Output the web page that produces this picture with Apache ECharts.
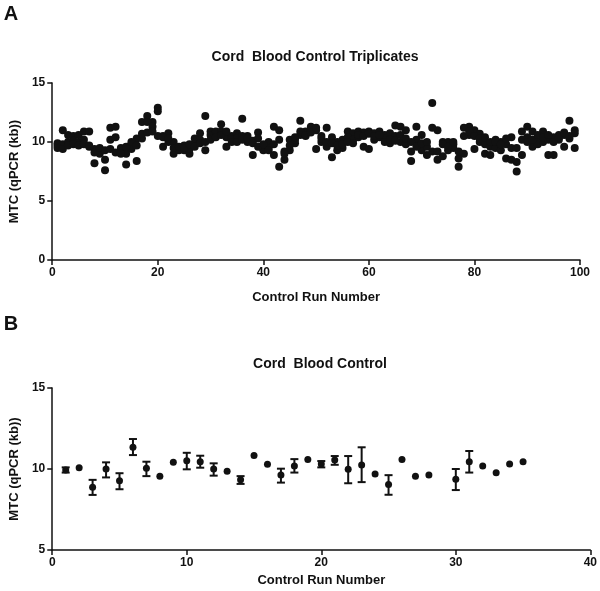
<!DOCTYPE html>
<html><head><meta charset="utf-8">
<script src="https://cdn.jsdelivr.net/npm/echarts@6/dist/echarts.min.js"></script>
<style>html,body{margin:0;padding:0;background:#fff}#c{width:600px;height:591px}</style>
</head><body><div id="c"></div>
<script>
// ---------- Panel A: Cord Blood Control Triplicates ----------
const runsA = [1,2,3,4,5,6,7,8,9,10,11,12,13,14,15,16,17,18,19,20,21,22,23,24,25,26,27,28,29,30,31,32,33,34,35,36,37,38,39,40,41,42,43,44,45,46,47,48,49,50,51,52,53,54,55,56,57,58,59,60,61,62,63,64,65,66,67,68,69,70,71,72,73,74,75,76,77,78,79,80,81,82,83,84,85,86,87,88,89,90,91,92,93,94,95,96,97,98,99];
const repA1 = [9.7,11.0,10.6,10.5,10.6,10.9,10.9,9.4,9.2,8.5,11.2,11.3,9.5,8.1,9.8,8.4,10.3,12.2,11.7,12.9,10.5,10.75,9.0,9.3,9.3,9.0,9.8,10.75,12.2,10.9,10.6,11.5,10.4,10.5,10.75,11.97,10.5,8.9,10.8,9.3,10.0,11.3,11.0,9.2,10.2,9.9,11.8,10.9,11.3,11.0,10.5,11.2,8.7,9.3,10.2,10.9,10.75,10.9,10.8,10.9,10.75,10.9,10.6,10.75,11.4,11.3,11.0,9.2,11.3,10.6,8.9,13.3,11.0,10.0,10.0,9.8,7.9,9.0,11.3,9.4,10.0,9.0,8.9,10.2,10.0,8.6,8.5,7.5,10.9,11.3,10.9,10.4,10.9,8.9,8.9,10.6,9.6,11.8,11.0];
const repA2 = [9.9,9.8,10.0,10.1,10.0,10.2,9.6,8.2,9.0,7.6,10.2,10.4,9.3,9.0,9.4,10.3,11.7,11.7,11.3,12.6,9.6,10.0,10.0,9.4,9.7,9.4,10.3,10.2,9.3,10.6,10.9,10.9,9.6,10.2,10.3,10.5,10.0,10.1,10.3,9.4,9.5,8.9,10.2,8.5,9.3,10.2,10.6,10.5,11.0,9.4,10.0,9.6,10.4,10.0,9.5,10.4,10.2,10.4,9.6,9.4,10.2,10.4,10.3,9.9,10.5,10.0,9.8,8.4,10.2,9.3,9.6,11.2,8.5,8.8,9.3,9.5,8.6,11.2,10.6,11.0,10.7,9.8,9.6,9.5,9.3,9.8,10.4,8.3,8.9,10.4,9.6,9.8,10.0,10.2,10.4,10.2,10.6,10.3,10.75];
const repA3 = [9.5,9.4,9.7,9.8,9.7,9.8,9.7,9.1,9.5,9.3,9.4,9.1,9.0,9.6,10.0,9.7,10.7,10.8,10.9,10.5,10.4,10.3,9.5,9.6,9.5,9.8,9.6,9.9,10.0,10.2,10.4,10.6,10.9,10.0,10.0,10.2,10.3,9.9,9.6,9.8,9.3,9.8,7.9,9.0,9.7,10.4,10.9,10.6,10.8,11.2,10.3,10.0,9.9,9.7,9.8,10.0,9.9,10.6,10.5,10.7,10.5,10.6,10.0,10.2,10.1,10.6,10.3,10.0,9.6,9.9,10.0,9.2,9.2,9.8,9.6,10.0,9.2,10.5,10.9,10.5,10.3,10.4,10.0,10.0,9.8,10.3,9.5,9.5,10.2,10.0,10.2,10.6,10.4,10.6,10.0,10.4,10.8,10.5,9.5];
const ticksAx = [0,20,40,60,80,100];
const ticksAy = [0,5,10,15];

// ---------- Panel B: Cord Blood Control (mean with range) ----------
const runsB = [1,2,3,4,5,6,7,8,9,10,11,12,13,14,15,16,17,18,19,20,21,22,23,24,25,26,27,28,29,30,31,32,33,34,35];
const meanB = [9.94,10.08,8.87,10.0,9.28,11.34,10.04,9.56,10.41,10.51,10.45,10.0,9.86,9.33,10.84,10.29,9.63,10.18,10.59,10.31,10.56,9.98,10.25,9.69,9.05,10.59,9.56,9.63,null,9.36,10.45,10.18,9.77,10.31,10.45];
const lowB  = [9.78,null,8.4,9.48,8.75,10.86,9.56,null,null,9.98,10.08,9.59,null,9.08,null,null,9.16,9.78,null,10.1,10.26,9.12,9.19,null,8.41,null,null,null,null,8.7,9.78,null,null,null,null];
const highB = [10.1,null,9.33,10.41,9.74,11.85,10.45,null,null,11.0,10.82,10.35,null,9.56,null,null,10.02,10.61,null,10.49,10.8,10.8,11.34,null,9.62,null,null,null,null,10.0,11.11,null,null,null,null];
const ticksBx = [0,10,20,30,40];
const ticksBy = [5,10,15];

const FONT = '"Liberation Sans", Arial, Helvetica, sans-serif';
const chart = echarts.init(document.getElementById('c'), null, {renderer:'canvas'});

const scatterA = [];
[repA1, repA2, repA3].forEach(rep => rep.forEach((v, i) => scatterA.push([runsA[i], v])));
const pointsB = [];
const barsB = [];
runsB.forEach((r, i) => {
  if (meanB[i] != null) pointsB.push([r, meanB[i]]);
  if (lowB[i] != null && highB[i] != null) barsB.push([r, lowB[i], highB[i]]);
});

function axisCommon(min, max, interval, name, gap, rotate) {
  return {
    type: 'value', min, max, interval,
    name, nameLocation: 'middle', nameGap: gap, nameRotate: rotate,
    nameTextStyle: {fontFamily: FONT, fontWeight: 'bold', fontSize: 13, color: '#111'},
    axisLine: {show: true, onZero: false, lineStyle: {color: '#111', width: 1.5}},
    axisTick: {show: true, length: 5, lineStyle: {color: '#111', width: 1.5}},
    axisLabel: {fontFamily: FONT, fontWeight: 'bold', fontSize: 12, color: '#111', margin: 7},
    splitLine: {show: false}
  };
}

function errRender(params, api) {
  const x = api.value(0), lo = api.value(1), hi = api.value(2);
  const pLo = api.coord([x, lo]), pHi = api.coord([x, hi]);
  const w = 4, st = {stroke: '#111', lineWidth: 2};
  return {type: 'group', children: [
    {type: 'line', shape: {x1: pLo[0], y1: pLo[1], x2: pHi[0], y2: pHi[1]}, style: st},
    {type: 'line', shape: {x1: pLo[0] - w, y1: pLo[1], x2: pLo[0] + w, y2: pLo[1]}, style: st},
    {type: 'line', shape: {x1: pHi[0] - w, y1: pHi[1], x2: pHi[0] + w, y2: pHi[1]}, style: st}
  ]};
}

const txt = (t, x, y, size) => ({type: 'text', x, y, style: {text: t, font: 'bold ' + size + 'px ' + FONT, fill: '#111', textAlign: 'center', textVerticalAlign: 'middle'}});

chart.setOption({
  backgroundColor: '#fff',
  animation: false,
  grid: [
    {left: 50, top: 83, width: 530, height: 177},
    {left: 50, top: 388, width: 541, height: 162}
  ],
  xAxis: [
    Object.assign(axisCommon(ticksAx[0], ticksAx[ticksAx.length-1], 20, 'Control Run Number', 31, 0), {gridIndex: 0}),
    Object.assign(axisCommon(ticksBx[0], ticksBx[ticksBx.length-1], 10, 'Control Run Number', 24, 0), {gridIndex: 1})
  ],
  yAxis: [
    Object.assign(axisCommon(ticksAy[0], ticksAy[ticksAy.length-1], 5, 'MTC (qPCR (kb))', 22, 90), {gridIndex: 0}),
    Object.assign(axisCommon(ticksBy[0], ticksBy[ticksBy.length-1], 5, 'MTC (qPCR (kb))', 22, 90), {gridIndex: 1})
  ],
  series: [
    {type: 'scatter', xAxisIndex: 0, yAxisIndex: 0, data: scatterA, symbolSize: 8, itemStyle: {color: '#111', opacity: 1}, silent: true},
    {type: 'custom', xAxisIndex: 1, yAxisIndex: 1, data: barsB, renderItem: errRender, encode: {x: 0, y: [1, 2]}, silent: true},
    {type: 'scatter', xAxisIndex: 1, yAxisIndex: 1, data: pointsB, symbolSize: 7, itemStyle: {color: '#111', opacity: 1}, silent: true}
  ],
  graphic: [
    txt('A', 11, 14, 20),
    txt('Cord  Blood Control Triplicates', 315, 57, 14),
    txt('B', 11, 324, 20),
    txt('Cord  Blood Control', 320, 364, 14)
  ]
});
</script>
</body></html>
